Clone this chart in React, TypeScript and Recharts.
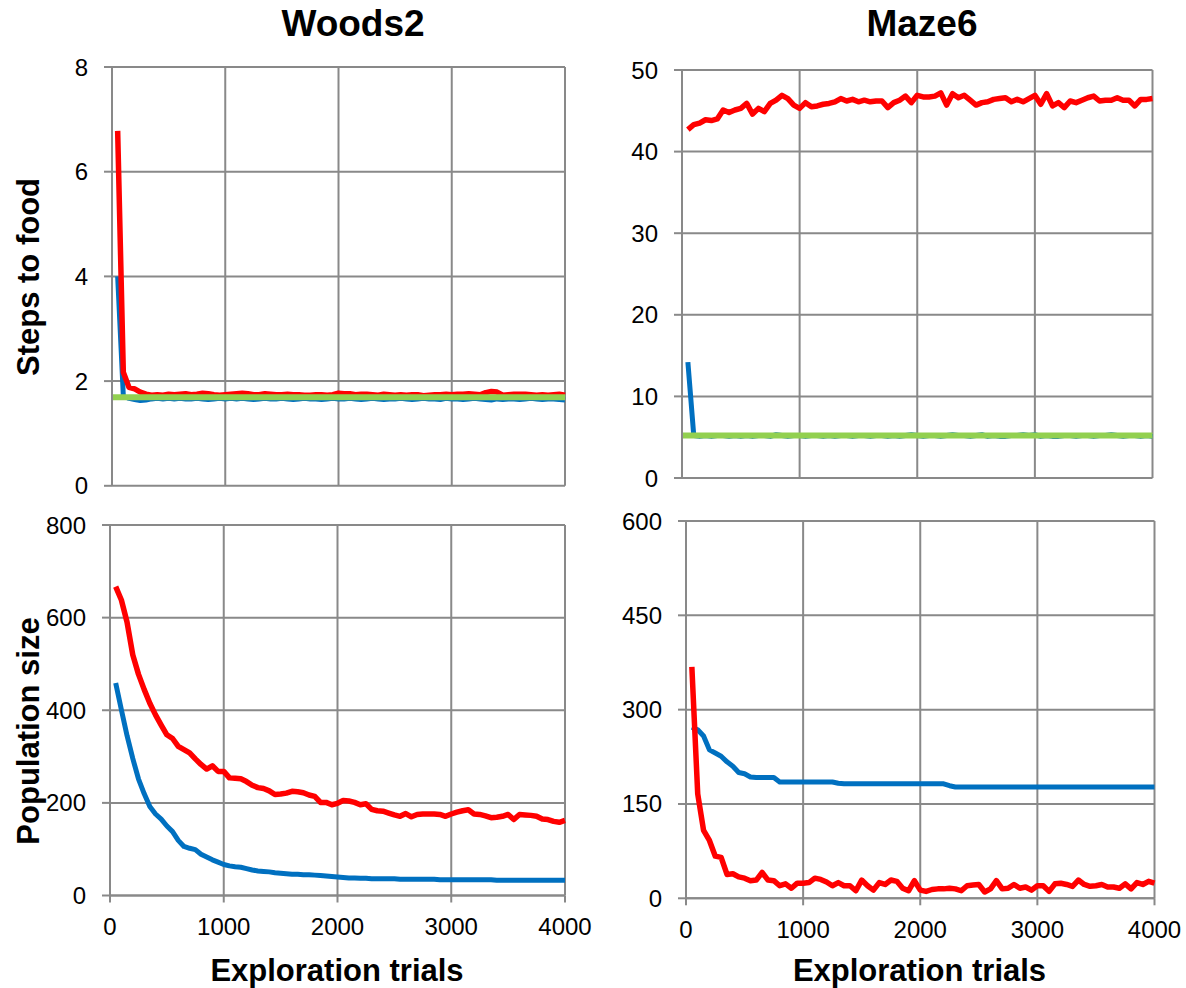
import React from "react";
import { CartesianGrid, Line, LineChart, XAxis, YAxis } from "recharts";

// exploration trials, sampled every 50
const trials = [
  50, 100, 150, 200, 250, 300, 350, 400, 450, 500,
  550, 600, 650, 700, 750, 800, 850, 900, 950, 1000,
  1050, 1100, 1150, 1200, 1250, 1300, 1350, 1400, 1450, 1500,
  1550, 1600, 1650, 1700, 1750, 1800, 1850, 1900, 1950, 2000,
  2050, 2100, 2150, 2200, 2250, 2300, 2350, 2400, 2450, 2500,
  2550, 2600, 2650, 2700, 2750, 2800, 2850, 2900, 2950, 3000,
  3050, 3100, 3150, 3200, 3250, 3300, 3350, 3400, 3450, 3500,
  3550, 3600, 3650, 3700, 3750, 3800, 3850, 3900, 3950, 4000,
];
const xTicks = [0, 1000, 2000, 3000, 4000];
const optimalTrials = [0, 4000];

// Woods2 - steps to food
const woodsStepsRed = [
  6.78, 2.17, 1.88, 1.85, 1.79, 1.75, 1.73, 1.74, 1.73, 1.75,
  1.74, 1.75, 1.76, 1.74, 1.75, 1.77, 1.76, 1.74, 1.73, 1.74,
  1.75, 1.76, 1.77, 1.76, 1.74, 1.74, 1.76, 1.75, 1.74, 1.74,
  1.75, 1.74, 1.74, 1.73, 1.73, 1.74, 1.74, 1.73, 1.74, 1.77,
  1.76, 1.76, 1.74, 1.75, 1.75, 1.74, 1.73, 1.75, 1.74, 1.73,
  1.74, 1.73, 1.74, 1.74, 1.72, 1.73, 1.74, 1.74, 1.75, 1.74,
  1.75, 1.75, 1.76, 1.75, 1.74, 1.78, 1.80, 1.79, 1.73, 1.74,
  1.75, 1.75, 1.75, 1.74, 1.73, 1.74, 1.73, 1.74, 1.75, 1.73,
];
const woodsStepsBlue = [
  4.0, 1.72, 1.67, 1.65, 1.63, 1.64, 1.66, 1.67, 1.66, 1.67,
  1.66, 1.67, 1.66, 1.66, 1.67, 1.66, 1.65, 1.66, 1.67, 1.66,
  1.67, 1.66, 1.67, 1.66, 1.65, 1.66, 1.67, 1.66, 1.66, 1.67,
  1.66, 1.65, 1.66, 1.67, 1.66, 1.66, 1.65, 1.66, 1.67, 1.66,
  1.66, 1.67, 1.66, 1.65, 1.66, 1.67, 1.66, 1.65, 1.66, 1.66,
  1.67, 1.66, 1.65, 1.66, 1.67, 1.66, 1.66, 1.65, 1.67, 1.66,
  1.66, 1.65, 1.66, 1.67, 1.66, 1.65, 1.64, 1.66, 1.65, 1.66,
  1.66, 1.65, 1.66, 1.67, 1.66, 1.65, 1.66, 1.66, 1.65, 1.64,
];
const woodsOptimal = [1.69, 1.69];

// Maze6 - steps to food
const mazeStepsRed = [
  42.7, 43.3, 43.5, 43.9, 43.8, 44.0, 45.1, 44.8, 45.1, 45.3,
  45.9, 44.6, 45.3, 44.9, 45.9, 46.3, 46.9, 46.5, 45.7, 45.3,
  46.0, 45.5, 45.6, 45.8, 45.9, 46.1, 46.5, 46.2, 46.4, 46.1,
  46.3, 46.1, 46.2, 46.2, 45.4, 46.0, 46.3, 46.8, 46.0, 46.9,
  46.7, 46.7, 46.8, 47.2, 45.7, 47.1, 46.6, 46.9, 46.3, 45.7,
  46.0, 46.1, 46.4, 46.5, 46.6, 46.1, 46.4, 46.1, 46.5, 46.9,
  45.8, 47.1, 45.6, 46.0, 45.4, 46.2, 46.0, 46.3, 46.6, 46.8,
  46.2, 46.3, 46.3, 46.6, 46.3, 46.3, 45.6, 46.4, 46.4, 46.5,
];
const mazeStepsBlue = [
  14.2, 5.2, 5.1, 5.2, 5.1, 5.2, 5.2, 5.1, 5.2, 5.1,
  5.2, 5.1, 5.2, 5.2, 5.1, 5.3, 5.2, 5.1, 5.2, 5.2,
  5.1, 5.2, 5.2, 5.1, 5.2, 5.1, 5.2, 5.2, 5.1, 5.2,
  5.2, 5.1, 5.2, 5.2, 5.1, 5.2, 5.1, 5.2, 5.3, 5.2,
  5.1, 5.2, 5.2, 5.1, 5.2, 5.3, 5.2, 5.2, 5.1, 5.2,
  5.3, 5.1, 5.2, 5.1, 5.1, 5.2, 5.2, 5.3, 5.2, 5.3,
  5.1, 5.2, 5.1, 5.1, 5.2, 5.2, 5.1, 5.2, 5.2, 5.1,
  5.2, 5.2, 5.3, 5.2, 5.1, 5.2, 5.2, 5.1, 5.2, 5.1,
];
const mazeOptimal = [5.2, 5.2];

// Woods2 - population size
const woodsPopRed = [
  667, 638, 590, 520, 478, 445, 415, 390, 368, 347,
  339, 322, 315, 308, 295, 283, 273, 280, 268, 268,
  254, 253, 252, 246, 238, 233, 231, 226, 218, 219,
  221, 225, 224, 222, 217, 214, 201, 201, 196, 199,
  205, 204, 201, 196, 198, 186, 183, 182, 178, 174,
  171, 177, 170, 175, 176, 176, 176, 175, 171, 176,
  180, 183, 185, 176, 175, 172, 168, 169, 171, 175,
  164, 175, 174, 173, 171, 165, 164, 160, 158, 162,
];
const woodsPopBlue = [
  459, 401, 345, 296, 252, 220, 192, 176, 165, 150,
  138, 119, 106, 102, 99, 89, 83, 77, 72, 67,
  64, 62, 61, 58, 55, 53, 52, 51, 49, 48,
  47, 46, 46, 45, 45, 44, 43, 42, 41, 40,
  39, 38, 38, 37, 37, 36, 36, 36, 36, 36,
  35, 35, 35, 35, 35, 35, 35, 34, 34, 34,
  34, 34, 34, 34, 34, 34, 34, 33, 33, 33,
  33, 33, 33, 33, 33, 33, 33, 33, 33, 33,
];

// Maze6 - population size
const mazePopRed = [
  368, 166, 108, 92, 67, 65, 38, 39, 34, 32,
  28, 29, 41, 29, 28, 20, 23, 16, 24, 24,
  25, 32, 30, 26, 20, 25, 20, 20, 12, 29,
  20, 13, 25, 22, 29, 27, 16, 12, 28, 13,
  11, 14, 15, 15, 16, 15, 12, 20, 21, 22,
  10, 15, 28, 15, 16, 22, 16, 18, 13, 20,
  20, 11, 23, 24, 22, 19, 29, 22, 19, 20,
  22, 18, 18, 16, 23, 15, 25, 22, 27, 24,
];
const mazePopBlue = [
  272, 268, 258, 236, 231, 226, 217, 210, 200, 198,
  193, 192, 192, 192, 192, 185, 185, 185, 185, 185,
  185, 185, 185, 185, 185, 183, 182, 182, 182, 182,
  182, 182, 182, 182, 182, 182, 182, 182, 182, 182,
  182, 182, 182, 182, 179, 177, 177, 177, 177, 177,
  177, 177, 177, 177, 177, 177, 177, 177, 177, 177,
  177, 177, 177, 177, 177, 177, 177, 177, 177, 177,
  177, 177, 177, 177, 177, 177, 177, 177, 177, 177,
];

const FONT = "'Liberation Sans', Arial, sans-serif";
const GRID = "#898989";

const rows = (red: number[], blue: number[]) =>
  trials.map((t, i) => ({ trial: t, red: red[i], blue: blue[i] }));
const optimalRows = (v: number[]) => optimalTrials.map((t, i) => ({ trial: t, opt: v[i] }));

type PanelProps = {
  left: number;
  top: number;
  plotW: number;
  plotH: number;
  red: number[];
  blue: number[];
  optimal?: number[];
  yMax: number;
  yTicks: number[];
  showX: boolean;
  xTickMargin?: number;
};

function Panel({ left, top, plotW, plotH, red, blue, optimal, yMax, yTicks, showX, xTickMargin = 15 }: PanelProps) {
  const yW = 80;
  const xH = showX ? 50 : 0;
  const m = { top: 16, right: 40, bottom: 16, left: 0 };
  const width = m.left + yW + plotW + m.right;
  const height = m.top + plotH + xH + m.bottom;
  const tickStyle = { fill: "#000", fontSize: 24, fontFamily: FONT };
  return (
    <div style={{ position: "absolute", left: left - yW - m.left, top: top - m.top }}>
      <LineChart width={width} height={height} data={rows(red, blue)} margin={m}>
        <CartesianGrid stroke={GRID} strokeWidth={2} />
        <XAxis
          dataKey="trial"
          type="number"
          domain={[0, 4000]}
          ticks={xTicks}
          interval={0}
          hide={!showX}
          height={xH}
          tick={tickStyle}
          tickSize={7}
          tickMargin={xTickMargin}
          axisLine={{ stroke: GRID, strokeWidth: 2 }}
          tickLine={{ stroke: GRID, strokeWidth: 2 }}
        />
        <YAxis
          type="number"
          domain={[0, yMax]}
          ticks={yTicks}
          interval={0}
          width={yW}
          tick={tickStyle}
          tickSize={8}
          tickMargin={16}
          axisLine={{ stroke: GRID, strokeWidth: 2 }}
          tickLine={{ stroke: GRID, strokeWidth: 2 }}
        />
        <Line dataKey="blue" stroke="#0070C0" strokeWidth={5} dot={false} isAnimationActive={false} strokeLinejoin="round" />
        <Line dataKey="red" stroke="#FF0000" strokeWidth={5.5} dot={false} isAnimationActive={false} strokeLinejoin="round" />
        {optimal && (
          <Line
            data={optimalRows(optimal)}
            dataKey="opt"
            stroke="#92D050"
            strokeWidth={6}
            dot={false}
            isAnimationActive={false}
          />
        )}
      </LineChart>
    </div>
  );
}

export default function App() {
  const bold = { fontFamily: FONT, fontWeight: 700, fill: "#000" } as const;
  return (
    <div style={{ position: "absolute", left: 0, top: 0, width: 1186, height: 988, background: "#fff" }}>
      <Panel left={112} top={66.7} plotW={453} plotH={418.8} red={woodsStepsRed} blue={woodsStepsBlue}
        optimal={woodsOptimal} yMax={8} yTicks={[0, 2, 4, 6, 8]} showX={false} />
      <Panel left={682} top={70} plotW={470.5} plotH={408} red={mazeStepsRed} blue={mazeStepsBlue}
        optimal={mazeOptimal} yMax={50} yTicks={[0, 10, 20, 30, 40, 50]} showX={false} />
      <Panel left={109.5} top={525} plotW={455} plotH={370.5} red={woodsPopRed} blue={woodsPopBlue}
        yMax={800} yTicks={[0, 200, 400, 600, 800]} showX xTickMargin={15} />
      <Panel left={685.5} top={520.7} plotW={468.5} plotH={377.3} red={mazePopRed} blue={mazePopBlue}
        yMax={600} yTicks={[0, 150, 300, 450, 600]} showX xTickMargin={16} />
      <svg width={1186} height={988} style={{ position: "absolute", left: 0, top: 0, pointerEvents: "none" }}>
        <text x={353} y={35.7} textAnchor="middle" fontSize={37} {...bold}>Woods2</text>
        <text x={922} y={35.7} textAnchor="middle" fontSize={37} {...bold}>Maze6</text>
        <text x={39} y={277} textAnchor="middle" fontSize={31} transform="rotate(-90 39 277)" {...bold}>Steps to food</text>
        <text x={39} y={731} textAnchor="middle" fontSize={31} transform="rotate(-90 39 731)" {...bold}>Population size</text>
        <text x={337} y={980.5} textAnchor="middle" fontSize={31} {...bold}>Exploration trials</text>
        <text x={919.5} y={980.5} textAnchor="middle" fontSize={31} {...bold}>Exploration trials</text>
      </svg>
    </div>
  );
}
